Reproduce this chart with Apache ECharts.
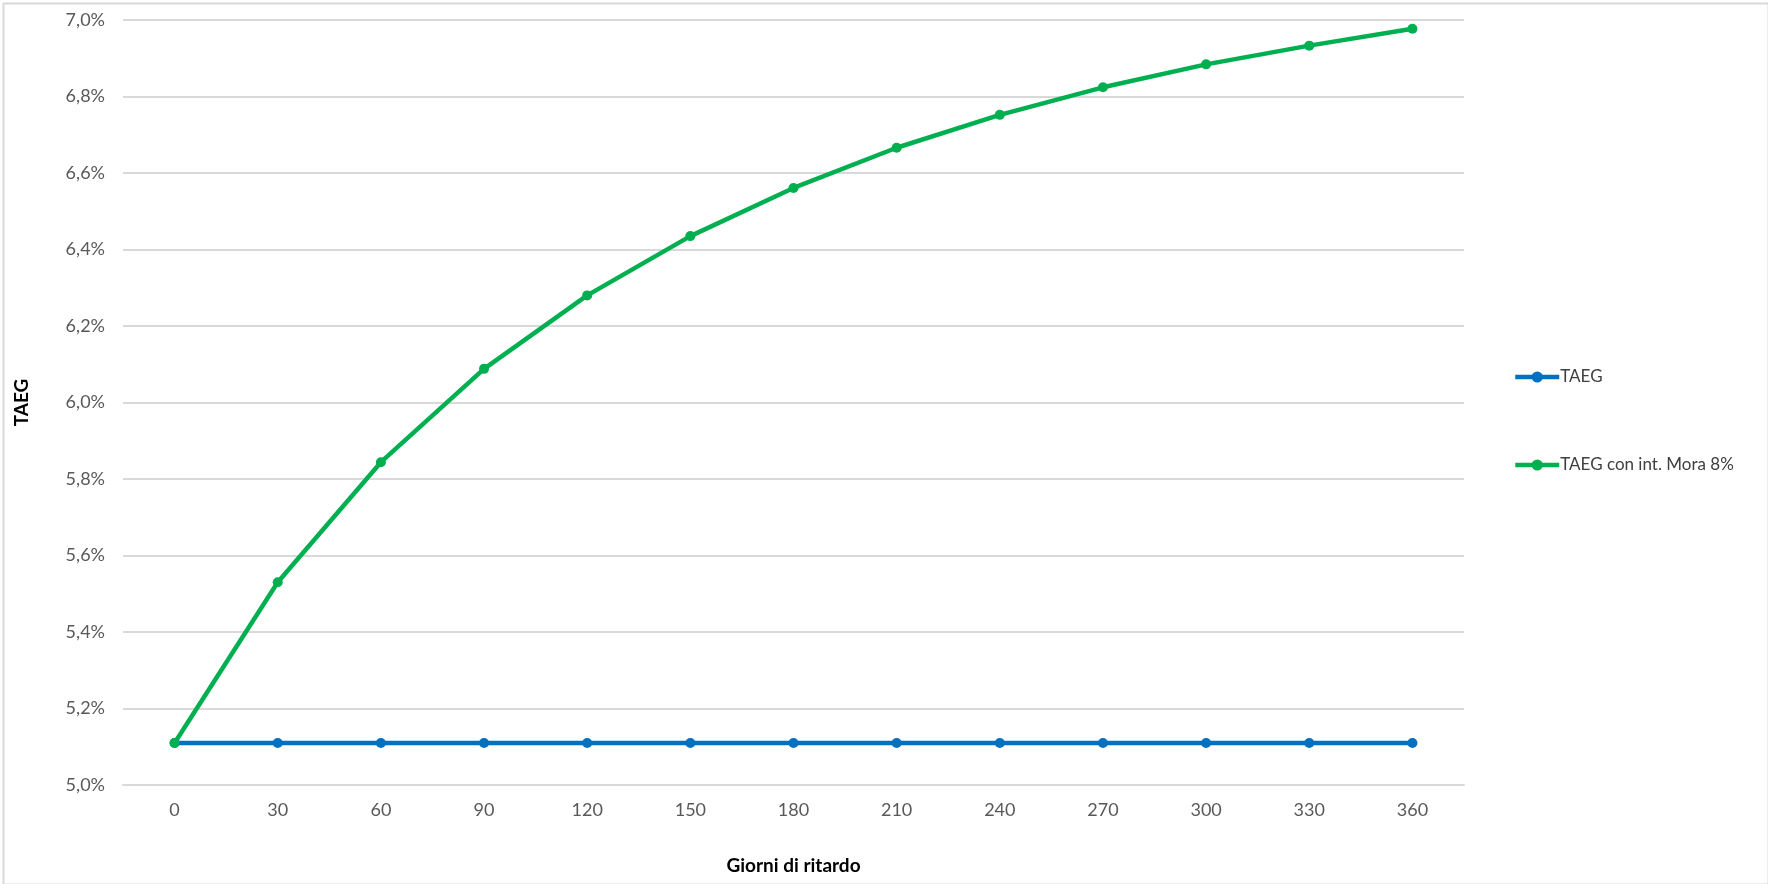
<!DOCTYPE html>
<html>
<head>
<meta charset="utf-8">
<script src="https://cdn.jsdelivr.net/npm/echarts@6/dist/echarts.min.js"></script>
<style>
html,body{margin:0;padding:0;background:#fff;}
#chart{width:1768px;height:884px;}
</style>
</head>
<body>
<div id="chart"></div>
<script>
const categories = ['0','30','60','90','120','150','180','210','240','270','300','330','360'];
const taeg = [5.11,5.11,5.11,5.11,5.11,5.11,5.11,5.11,5.11,5.11,5.11,5.11,5.11];
const taegMora = [5.11,5.53,5.844,6.088,6.28,6.435,6.561,6.666,6.752,6.824,6.884,6.933,6.977];
const seriesNames = ['TAEG','TAEG con int. Mora 8%'];
const xTitle = 'Giorni di ritardo';
const yTitle = 'TAEG';

const FONT = 'Lato, "Noto Sans", sans-serif';
const chart = echarts.init(document.getElementById('chart'), null, {renderer:'canvas'});
chart.setOption({
  animation:false,
  backgroundColor:'#ffffff',
  textStyle:{fontFamily:FONT},
  graphic:[{
    type:'rect', left:1, top:1, z:-1,
    shape:{width:1765, height:881},
    style:{fill:'none', stroke:'#d9d9d9', lineWidth:2}
  }],
  grid:{left:123, right:304, top:20, bottom:99, containLabel:false},
  legend:{
    orient:'vertical', left:1508, top:362,
    itemWidth:44, itemHeight:14, itemGap:68,
    lineStyle:{width:4.5},
    textStyle:{fontFamily:FONT, fontSize:17, lineHeight:20, color:'#404040', padding:[0,0,0,-4]},
    data:seriesNames
  },
  xAxis:{
    type:'category', data:categories, boundaryGap:true,
    name:xTitle, nameLocation:'middle', nameGap:71,
    nameTextStyle:{fontFamily:FONT, fontSize:19, fontWeight:'bold', color:'#000'},
    axisLine:{lineStyle:{color:'#d9d9d9', width:2}},
    axisTick:{show:false},
    axisLabel:{fontFamily:FONT, fontSize:18, color:'#595959', margin:16}
  },
  yAxis:{
    type:'value', min:5.0, max:7.0, interval:0.2,
    name:yTitle, nameLocation:'middle', nameGap:92, nameRotate:90,
    nameTextStyle:{fontFamily:FONT, fontSize:19, fontWeight:'bold', color:'#000'},
    axisLine:{show:false}, axisTick:{show:false},
    splitLine:{lineStyle:{color:'#d9d9d9', width:2}},
    axisLabel:{fontFamily:FONT, fontSize:18, color:'#595959', margin:18,
      formatter:v=>v.toFixed(1).replace('.',',')+'%'}
  },
  series:[
    {name:seriesNames[0], type:'line', data:taeg, symbol:'circle', symbolSize:10,
     lineStyle:{color:'#0070C0', width:4.5}, itemStyle:{color:'#0070C0'}},
    {name:seriesNames[1], type:'line', data:taegMora, symbol:'circle', symbolSize:10,
     lineStyle:{color:'#00B050', width:4.5}, itemStyle:{color:'#00B050'}}
  ]
});
</script>
</body>
</html>
